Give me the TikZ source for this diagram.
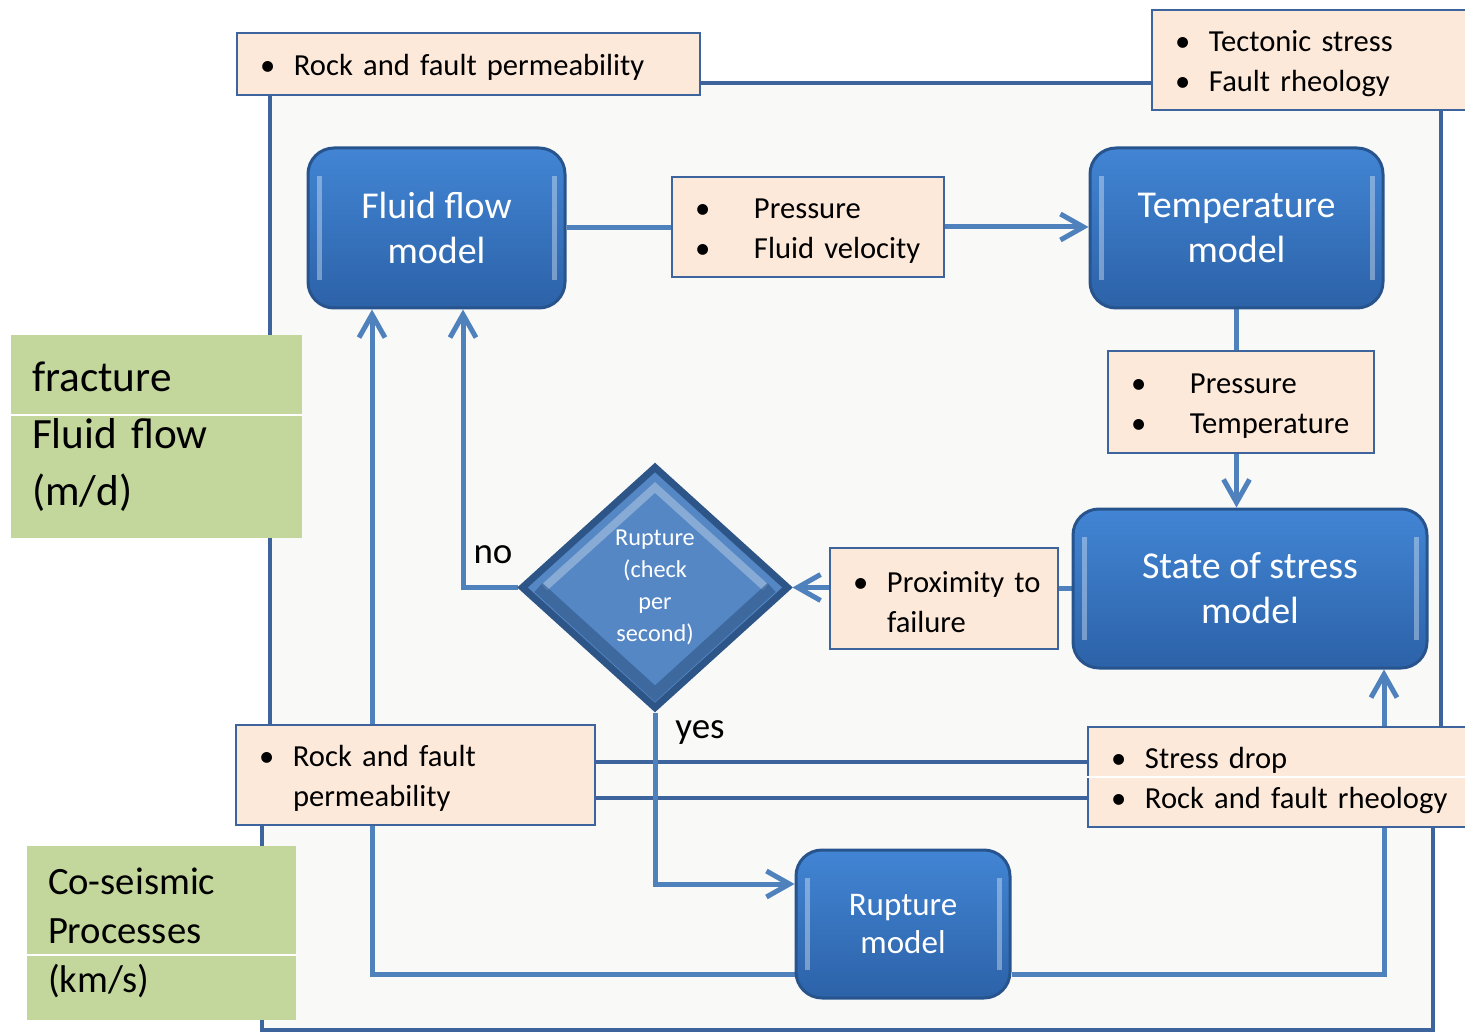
\documentclass[tikz,border=0pt]{standalone}
\usepackage{fontspec}
\setmainfont{Carlito}
\usetikzlibrary{shapes.geometric,arrows.meta}
\definecolor{peach}{RGB}{253,233,217}
\definecolor{olive}{RGB}{195,214,155}
\definecolor{wireblue}{RGB}{79,129,189}
\definecolor{frameblue}{RGB}{62,100,158}
\definecolor{modeltop}{RGB}{66,133,212}
\definecolor{modelbot}{RGB}{44,98,168}
\definecolor{modeledge}{RGB}{40,84,142}
\definecolor{panel}{RGB}{249,249,247}
\definecolor{diamondfill}{RGB}{85,135,197}
\definecolor{diamondedge}{RGB}{45,85,135}

\pgfdeclarelayer{back}
\pgfdeclarelayer{wires}
\pgfsetlayers{back,wires,main}

% bullet item, #1 = distance from bullet to text
\newcommand{\itm}[2][3.4mm]{\rule{0pt}{2.8mm}\makebox[#1][l]{\textbullet}\mbox{#2}}

\tikzset{
  model/.style={rounded corners=2.6mm, draw=modeledge, line width=0.3mm,
                top color=modeltop, bottom color=modelbot, text=white, align=center,
                font=\fontsize{10.8}{12.8}\selectfont,
                path picture={
                  \draw[white, opacity=0.35, line width=0.5mm]
                    ([xshift=1.1mm,yshift=-2.8mm]path picture bounding box.north west) --
                    ([xshift=1.1mm,yshift=2.8mm]path picture bounding box.south west)
                    ([xshift=-1.1mm,yshift=-2.8mm]path picture bounding box.north east) --
                    ([xshift=-1.1mm,yshift=2.8mm]path picture bounding box.south east);
                }},
  note/.style={draw=frameblue, line width=0.2mm, fill=peach, inner xsep=2.3mm, inner ysep=0pt,
               align=left, font=\fontsize{8.7}{11.4}\selectfont},
  tag/.style={fill=olive, inner xsep=2.1mm, inner ysep=0pt, align=left},
  wire/.style={draw=wireblue, line width=0.5mm},
  wirearrow/.style={wire, -{Straight Barb[length=2.3mm, width=2.6mm]}},
  rim/.style={draw=frameblue, line width=0.4mm},
  lbl/.style={inner sep=0pt, font=\fontsize{10.5}{12}\selectfont},
}

\begin{document}
\begin{tikzpicture}[x=0.1mm, y=-0.1mm]
  \useasboundingbox (0,0) rectangle (1465,1033);

  % models
  \node[model, minimum width=25.7mm, minimum height=16mm]   (fluid)  at ( 436.5, 228.0) {Fluid flow\\model};
  \node[model, minimum width=29.3mm, minimum height=16mm]   (temp)   at (1236.5, 228.0) {Temperature\\model};
  \node[model, minimum width=35.4mm, minimum height=15.9mm] (stress) at (1250.0, 588.5) {State of stress\\model};
  \node[model, minimum width=21.4mm, minimum height=14.8mm,
        font=\fontsize{9.4}{10.8}\selectfont]              (rup)    at ( 903.0, 924.0) {Rupture\\model};

  % rupture check
  \node[diamond, draw=diamondedge, line width=0.7mm, fill=diamondfill, text=white, inner sep=0pt,
        minimum width=26.8mm, minimum height=24.3mm, align=center,
        font=\fontsize{6.9}{9.1}\selectfont,
        path picture={
          \draw[white, opacity=0.3, line width=0.8mm]
            ([xshift=2.2mm]path picture bounding box.west) --
            ([yshift=-2mm]path picture bounding box.north) --
            ([xshift=-2.2mm]path picture bounding box.east);
          \draw[diamondedge, opacity=0.6, line width=1.2mm]
            ([xshift=1.6mm]path picture bounding box.west) --
            ([yshift=1.4mm]path picture bounding box.south) --
            ([xshift=-1.6mm]path picture bounding box.east);
        }] (dec) at (655,587.5) {Rupture\\(check\\per\\second)};

  % exchanged quantities
  \node[note, text width=41.7mm, minimum height=6.2mm]  (perm1) at ( 468.5,  64.0) {\itm{Rock and fault permeability}};
  \node[note, text width=27.7mm, minimum height=10mm]   (tect)  at (1313.5,  60.0) {\itm{Tectonic stress}\\\itm{Fault rheology}};
  \node[note, text width=22.6mm, minimum height=10mm]   (pv)    at ( 808.0, 227.0) {\itm[5.9mm]{Pressure}\\\itm[5.9mm]{Fluid velocity}};
  \node[note, text width=22.0mm, minimum height=10.2mm] (pt)    at (1241.0, 402.0) {\itm[5.9mm]{Pressure}\\\itm[5.9mm]{Temperature}};
  \node[note, text width=18.2mm, minimum height=10.1mm] (prox)  at ( 944.0, 598.5) {\itm{Proximity to}\\\hspace*{3.4mm}failure};
  \node[note, text width=31.3mm, minimum height=10mm]   (perm2) at ( 415.5, 775.0) {\itm{Rock and fault}\\\hspace*{3.4mm}permeability};
  \node[note, text width=34.1mm, minimum height=10mm]   (sdrop) at (1281.5, 777.0) {\itm{Stress drop}\\\itm{Rock and fault rheology}};
  \draw[white, line width=0.15mm] (sdrop.west) -- (sdrop.east);

  % time scales
  \node[tag, text width=24.9mm, minimum height=20.3mm, font=\fontsize{12.3}{16.2}\selectfont]
        (green1) at (156.5, 436.5) {fracture\\Fluid flow\\(m/d)};
  \draw[white, line width=0.2mm] ([yshift=-8.1mm]green1.north west) -- ([yshift=-8.1mm]green1.north east);
  \node[tag, text width=22.7mm, minimum height=17.4mm, font=\fontsize{11}{13.9}\selectfont]
        (green2) at (161.5, 933.0) {Co-seismic\\Processes\\(km/s)};
  \draw[white, line width=0.2mm] ([yshift=-11mm]green2.north west) -- ([yshift=-11mm]green2.north east);

  \node[lbl] (no)  at (493, 555) {no};
  \node[lbl] (yes) at (700, 733) {yes};

  % outer frame
  \begin{pgfonlayer}{back}
    \filldraw[rim, fill=panel] (270,83) -- (1441,83) -- (1441,777) -- (1433,777) -- (1433,1030)
      -- (262,1030) -- (262,777) -- (270,777) -- cycle;
  \end{pgfonlayer}

  % connectors
  \begin{pgfonlayer}{wires}
    \draw[rim] ([yshift=1.3mm]perm2.east) -- ([yshift=1.3mm]perm2.east -| sdrop.west);
    \draw[rim] ([yshift=-2.3mm]perm2.east) -- ([yshift=-2.3mm]perm2.east -| sdrop.west);
    \draw[wire] (fluid.east) -- (fluid.east -| pv.west);
    \draw[wirearrow] (pv.east) -- (pv.east -| temp.west);
    \draw[wire] (temp.south) -- (temp.south |- pt.north);
    \draw[wirearrow] (temp.south |- pt.south) -- (temp.south |- stress.north);
    \draw[wire] (stress.west) -- (stress.west -| prox.east);
    \draw[wirearrow] (prox.west |- dec.east) -- (dec.east);
    \draw[wirearrow] (dec.west) -| ([xshift=2.65mm]fluid.south);
    \draw[wirearrow] (dec.south) |- ([yshift=4mm]rup.west);
    \draw[wirearrow] ([yshift=-5mm]rup.west) -| ([xshift=-6.45mm]fluid.south);
    \draw[wirearrow] ([yshift=-5mm]rup.east) -| ([xshift=13.4mm]stress.south);
  \end{pgfonlayer}
\end{tikzpicture}
\end{document}
